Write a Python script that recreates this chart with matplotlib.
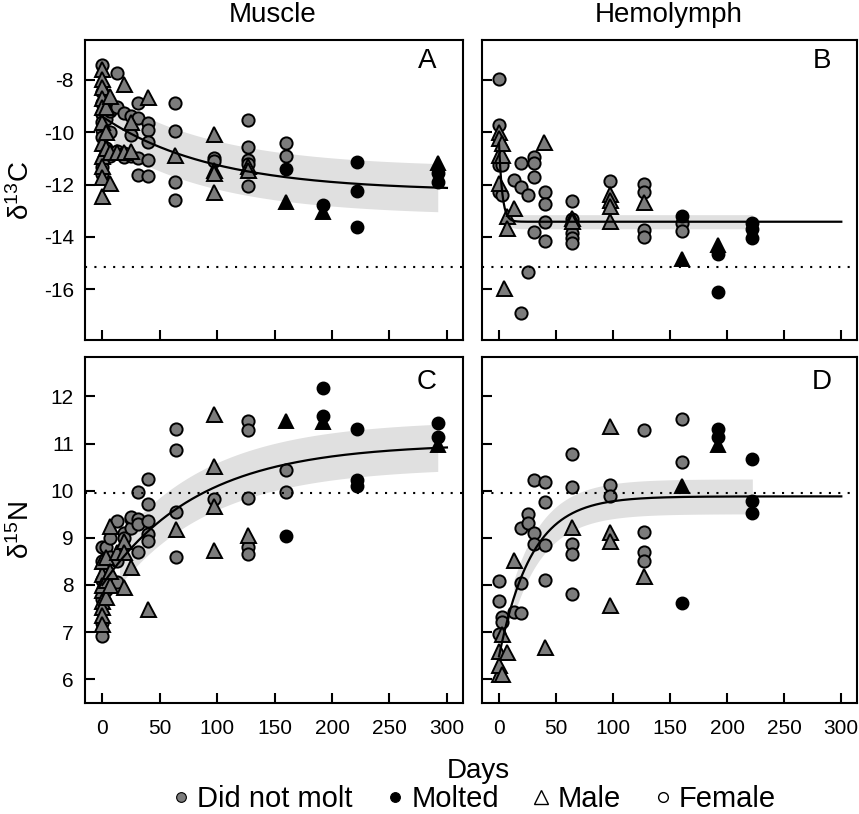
import numpy as np
import matplotlib
matplotlib.use("Agg")
import matplotlib.pyplot as plt
from matplotlib.lines import Line2D

plt.rcParams['font.family'] = ['Liberation Sans', 'DejaVu Sans']
plt.rcParams['mathtext.fontset'] = 'custom'
plt.rcParams['mathtext.rm'] = 'Liberation Sans'
plt.rcParams['mathtext.it'] = 'Liberation Sans:italic'
plt.rcParams['axes.unicode_minus'] = False

# ---- muscle d13C (day, value) ----
mc_female = [(0, -7.43), (0, -8.45), (0, -8.9), (0, -9.3), (0, -9.6), (0, -9.9), (0, -10.2),
             (0, -11.34), (0, -11.6), (3, -8.7), (3, -9.5), (3, -10.6), (7, -9.2), (7, -10.0),
             (7, -10.9), (13, -7.72), (13, -9.05), (13, -10.7), (19, -9.25), (19, -10.8),
             (19, -10.95), (25, -9.38), (25, -10.1), (25, -10.9), (31, -8.89), (31, -9.47),
             (31, -11.63), (31, -11.0), (40, -9.66), (40, -9.91), (40, -10.36), (40, -11.06),
             (40, -11.67), (63, -8.89), (63, -9.95), (63, -11.89), (63, -12.59), (97, -10.97),
             (97, -11.1), (127, -9.53), (127, -10.57), (127, -11.06), (127, -11.2), (127, -12.04),
             (160, -10.42), (160, -10.9)]
mc_male = [(0, -7.6), (0, -7.97), (0, -8.28), (0, -8.7), (0, -9.05), (0, -9.6), (0, -10.42),
           (0, -10.9), (0, -11.3), (0, -11.7), (0, -12.44), (3, -9.05), (3, -10.0), (3, -10.6),
           (7, -8.6), (7, -11.93), (7, -10.74), (13, -10.74), (19, -8.15), (19, -10.74),
           (25, -9.59), (25, -10.7), (40, -8.64), (63, -10.87), (97, -10.06), (97, -11.44),
           (97, -11.57), (97, -12.27), (127, -11.3), (127, -11.44)]
mc_female_molt = [(160, -11.42), (192, -12.78), (222, -11.12), (222, -12.23), (222, -13.63),
                  (292, -11.57), (292, -11.89)]
mc_male_molt = [(160, -12.65), (192, -13.04), (292, -11.19)]

# ---- hemolymph d13C ----
hc_female = [(0, -7.97), (0, -9.72), (0, -11.25), (0, -12.27), (3, -11.25), (3, -12.4),
             (13, -11.82), (19, -11.19), (19, -12.08), (19, -16.92), (25, -12.4), (25, -15.35),
             (31, -10.93), (31, -11.19), (31, -11.72), (31, -13.82), (40, -12.3), (40, -12.74),
             (40, -13.44), (40, -14.15), (64, -12.61), (64, -13.3), (64, -13.86), (64, -14.05),
             (64, -14.25), (97, -11.85), (127, -11.98), (127, -12.27), (127, -13.74),
             (127, -13.99), (160, -13.46), (160, -13.77)]
hc_male = [(0, -9.98), (0, -10.23), (0, -10.87), (0, -11.95), (3, -10.87), (3, -10.4),
           (4, -15.97), (7, -13.2), (7, -13.67), (13, -12.9), (39, -10.36), (64, -13.29),
           (64, -13.4), (97, -12.36), (97, -12.59), (97, -12.8), (97, -13.38), (127, -12.65)]
hc_female_molt = [(160, -13.2), (192, -14.65), (192, -16.09), (222, -13.46), (222, -13.71),
                  (222, -14.05)]
hc_male_molt = [(160, -14.86), (192, -14.31)]

# ---- muscle d15N ----
mn_female = [(0, 6.91), (0, 7.2), (0, 7.7), (0, 8.1), (0, 8.5), (0, 8.8), (3, 8.8), (3, 7.9),
             (3, 8.3), (7, 8.6), (7, 9.0), (13, 9.35), (13, 8.06), (13, 8.5), (19, 9.1),
             (19, 9.0), (25, 9.4), (25, 9.2), (25, 9.45), (31, 9.97), (31, 9.4), (31, 8.70),
             (31, 9.3), (40, 10.25), (40, 9.72), (40, 9.35), (40, 9.09), (40, 8.94), (64, 11.31),
             (64, 10.87), (64, 9.54), (64, 8.59), (97, 9.83), (127, 11.47), (127, 11.28),
             (127, 9.85), (127, 8.80), (127, 8.66), (160, 10.43), (160, 9.97)]
mn_male = [(0, 8.24), (0, 7.89), (0, 7.67), (0, 7.53), (0, 7.36), (0, 7.18), (0, 8.5), (0, 8.0),
           (3, 8.10), (3, 7.74), (3, 8.6), (7, 9.26), (7, 7.99), (7, 8.3), (13, 8.7), (19, 8.94),
           (19, 7.96), (19, 8.7), (25, 8.38), (40, 7.5), (64, 9.19), (97, 11.63), (97, 10.53),
           (97, 9.67), (97, 8.75), (127, 9.07)]
mn_female_molt = [(160, 9.03), (192, 12.19), (192, 11.59), (222, 11.30), (222, 10.22),
                  (222, 10.09), (292, 11.43), (292, 11.13)]
mn_male_molt = [(160, 11.47), (192, 11.45), (292, 10.96)]

# ---- hemolymph d15N ----
hn_female = [(0, 8.08), (0, 7.66), (0, 6.95), (3, 7.33), (3, 7.21), (13, 7.43), (19, 8.05),
             (19, 9.21), (19, 7.40), (25, 9.51), (25, 9.31), (31, 10.23), (31, 9.1), (31, 8.87),
             (40, 10.18), (40, 9.77), (40, 8.84), (40, 8.1), (64, 10.78), (64, 10.07), (64, 8.87),
             (64, 8.66), (64, 7.8), (97, 10.13), (97, 9.88), (127, 11.28), (127, 9.12), (127, 8.7),
             (127, 8.51), (160, 11.52), (160, 10.62)]
hn_male = [(0, 6.61), (0, 6.12), (0, 6.3), (3, 6.12), (3, 6.95), (7, 6.58), (13, 8.54),
           (40, 6.68), (64, 9.23), (97, 11.38), (97, 9.12), (97, 8.94), (97, 7.57), (127, 8.2)]
hn_female_molt = [(160, 7.62), (192, 11.31), (192, 11.13), (222, 10.68), (222, 9.79), (222, 9.52)]
hn_male_molt = [(160, 10.11), (192, 10.96)]

# exponential fits: asymptote, amplitude, rate; band half-width and day range
fit_mc = (-12.25, 2.85, 0.0105)
fit_hc = (-13.42, 3.0, 0.35)
fit_mn = (11.0, -3.0, 0.012)
fit_hn = (9.88, -3.39, 0.035)
band_mc = (0.92, 10, 292)
band_hc = (0.27, 7, 222)
band_mn = (0.5, 15, 292)
band_hn = (0.37, 13, 222)

# diet reference values
diet_c = -15.15
diet_n = 9.95

days_ticks = [0, 50, 100, 150, 200, 250, 300]
GRAY = '#7c7c7c'


def draw_panel(ax, female, male, female_molt, male_molt, fit, band, ref, letter):
    c, a, k = fit
    w, b0, b1 = band
    tb = np.linspace(b0, b1, 200)
    yb = c + a * np.exp(-k * tb)
    ax.fill_between(tb, yb - w, yb + w, color='#e0e0e0', lw=0, zorder=1)
    groups = [(female, 'o', GRAY, 8.8), (male, '^', GRAY, 10.8),
              (female_molt, 'o', 'black', 8.6), (male_molt, '^', 'black', 10.5)]
    for pts, mk, col, ms in groups:
        d = np.array(pts)
        ax.plot(d[:, 0], d[:, 1], ls='none', marker=mk, mfc=col, mec='black',
                ms=ms, mew=1.4, zorder=3)
    t = np.linspace(0, 300, 600)
    ax.plot(t, c + a * np.exp(-k * t), color='black', lw=1.6, zorder=4)
    ax.axhline(ref, color='black', ls=(0, (1, 3.5)), lw=1.5, zorder=5)
    ax.text(0.905, 0.93, letter, transform=ax.transAxes, ha='center', va='center', fontsize=20)
    ax.set_xlim(-15, 314)
    ax.set_xticks(days_ticks)
    for s in ax.spines.values():
        s.set_linewidth(1.5)
    ax.tick_params(direction='in', length=7, width=1.5, labelsize=15, pad=8)
    ax.tick_params(axis='x', pad=11)


fig = plt.figure(figsize=(8.59, 8.14), dpi=100)
axA = fig.add_axes([0.099, 0.582, 0.440, 0.369])
axB = fig.add_axes([0.561, 0.582, 0.437, 0.369])
axC = fig.add_axes([0.099, 0.136, 0.440, 0.425])
axD = fig.add_axes([0.561, 0.136, 0.437, 0.425])

draw_panel(axA, mc_female, mc_male, mc_female_molt, mc_male_molt, fit_mc, band_mc, diet_c, 'A')
draw_panel(axB, hc_female, hc_male, hc_female_molt, hc_male_molt, fit_hc, band_hc, diet_c, 'B')
draw_panel(axC, mn_female, mn_male, mn_female_molt, mn_male_molt, fit_mn, band_mn, diet_n, 'C')
draw_panel(axD, hn_female, hn_male, hn_female_molt, hn_male_molt, fit_hn, band_hn, diet_n, 'D')

for ax in (axA, axB):
    ax.set_ylim(-17.95, -6.47)
    ax.set_yticks([-8, -10, -12, -14, -16])
    ax.tick_params(labelbottom=False)
for ax in (axC, axD):
    ax.set_ylim(5.49, 12.83)
    ax.set_yticks([6, 7, 8, 9, 10, 11, 12])
for ax in (axB, axD):
    ax.tick_params(labelleft=False)

fig.text(0.317, 0.982, 'Muscle', ha='center', va='center', fontsize=20)
fig.text(0.778, 0.982, 'Hemolymph', ha='center', va='center', fontsize=20)
fig.text(0.024, 0.766, 'δ$^{13}$C', rotation=90, ha='center', va='center', fontsize=20)
fig.text(0.024, 0.349, 'δ$^{15}$N', rotation=90, ha='center', va='center', fontsize=20)
fig.text(0.557, 0.053, 'Days', ha='center', va='center', fontsize=20)

handles = [
    Line2D([], [], ls='none', marker='o', mfc=GRAY, mec='black', ms=7, mew=0.8),
    Line2D([], [], ls='none', marker='o', mfc='black', mec='black', ms=7, mew=0.8),
    Line2D([], [], ls='none', marker='^', mfc='none', mec='black', ms=10, mew=1),
    Line2D([], [], ls='none', marker='o', mfc='none', mec='black', ms=7, mew=1),
]
labels = ['Did not molt', 'Molted', 'Male', 'Female']
fig.legend(handles, labels, loc='center', bbox_to_anchor=(0.553, 0.018), ncol=4,
           frameon=False, fontsize=21, handlelength=0.5, handletextpad=0.3,
           columnspacing=1.2, borderpad=0)

fig.savefig('out.png', dpi=100)
